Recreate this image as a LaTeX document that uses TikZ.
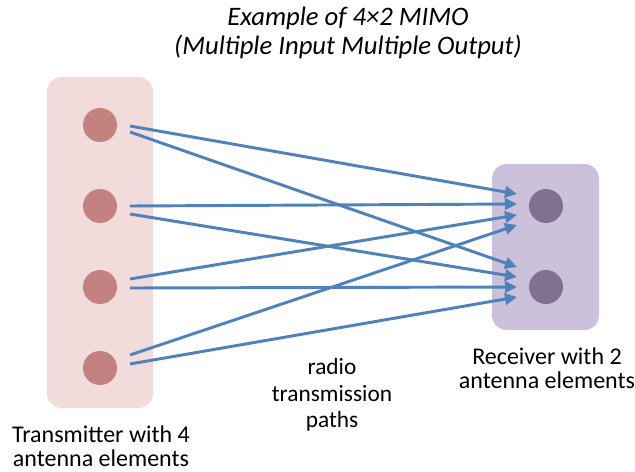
\documentclass[tikz,border=0pt]{standalone}
\usepackage{fontspec}
\setmainfont{Carlito}
\usetikzlibrary{arrows.meta}
\definecolor{txbox}{HTML}{F2DCDB}
\definecolor{txdot}{HTML}{C3827F}
\definecolor{rxbox}{HTML}{CCC1DA}
\definecolor{rxdot}{HTML}{7F7190}
\definecolor{path}{HTML}{4F81BD}
\tikzset{
  txant/.style={circle,fill=txdot,minimum size=25.5pt,inner sep=0pt},
  rxant/.style={circle,fill=rxdot,minimum size=25.5pt,inner sep=0pt},
  ray/.style={draw=path,line width=2.2pt,-{Triangle[length=9pt,width=8.5pt]}},
  lbl/.style={align=center,inner sep=0pt,font=\fontsize{18}{18.3}\selectfont},
}
\begin{document}
\begin{tikzpicture}[x=0.75pt,y=-0.75pt]
\useasboundingbox (0,0) rectangle (635,471);
\fill[txbox,rounded corners=11pt] (47,77) rectangle (153,408);
\fill[rxbox,rounded corners=11pt] (492,164) rectangle (599,330);
\node[txant] (t1) at (100,125) {};
\node[txant] (t2) at (100,206) {};
\node[txant] (t3) at (100,287) {};
\node[txant] (t4) at (100,368) {};
\node[rxant] (r1) at (546,206) {};
\node[rxant] (r2) at (546,287) {};
% to r1
\draw[ray] ([shift={(30,1)}]t1.center) -- ([shift={(-29,-12)}]r1.center);
\draw[ray] ([shift={(30,0)}]t2.center) -- ([shift={(-29,-2)}]r1.center);
\draw[ray] ([shift={(30,-8)}]t3.center) -- ([shift={(-29,9)}]r1.center);
\draw[ray] ([shift={(30,-13)}]t4.center) -- ([shift={(-29,19)}]r1.center);
% to r2
\draw[ray] ([shift={(30,7)}]t1.center) -- ([shift={(-29,-20)}]r2.center);
\draw[ray] ([shift={(30,8)}]t2.center) -- ([shift={(-29,-10)}]r2.center);
\draw[ray] ([shift={(30,1)}]t3.center) -- ([shift={(-29,0)}]r2.center);
\draw[ray] ([shift={(30,-4)}]t4.center) -- ([shift={(-29,10)}]r2.center);
\node[lbl,font=\fontsize{20}{21.75}\selectfont\itshape] (title) at (348,33) {Example of 4×2 MIMO\\(Multiple Input Multiple Output)};
\node[lbl] (txl) at (101,446) {Transmitter with 4\\antenna elements};
\node[lbl] (rxl) at (547,368) {Receiver with 2\\antenna elements};
\node[lbl,font=\fontsize{17.5}{19.9}\selectfont] (pl) at (332,395) {radio\\transmission\\paths};
\end{tikzpicture}
\end{document}
